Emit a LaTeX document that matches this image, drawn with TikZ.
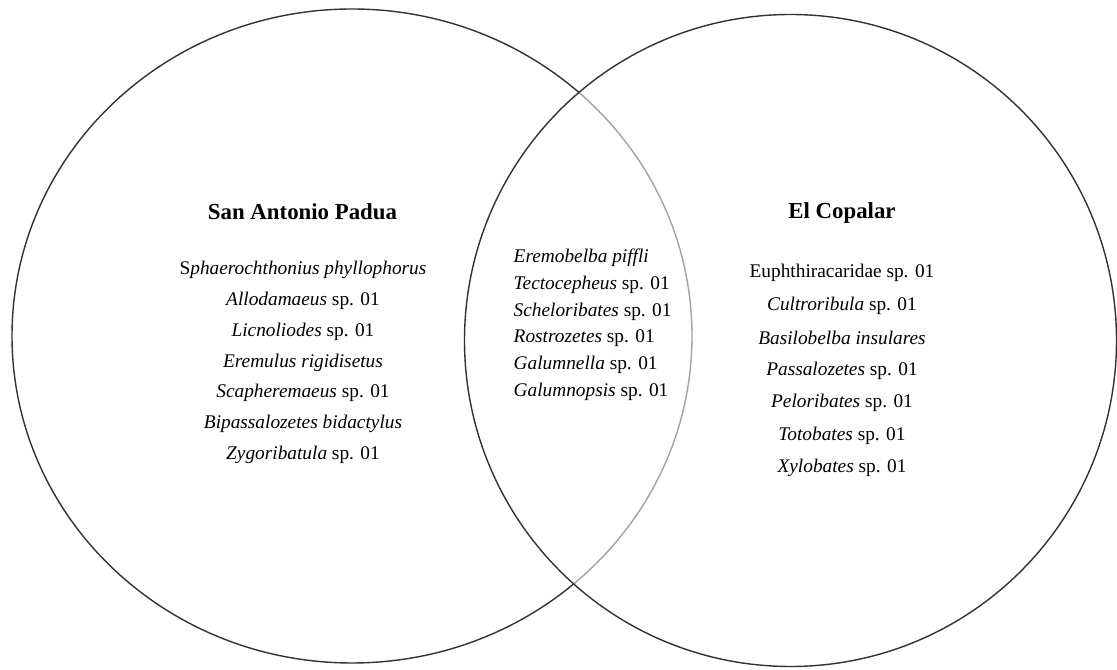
\documentclass[tikz,border=0pt]{standalone}
\usepackage{fontspec}
\setmainfont{Liberation Serif}

\begin{document}
\begin{tikzpicture}[line width=0.8pt]
    \tikzstyle{site}=[font=\fontsize{13}{15}\selectfont\bfseries,inner sep=0pt]
    \tikzstyle{species}=[font=\fontsize{11}{13}\selectfont,inner sep=0pt]
    \useasboundingbox (0,0) rectangle (22.34,13.4);

    % the two sampling sites, the right one greys out the arc below it
    \draw[black!80] (7.04,6.68) ellipse (6.8 and 6.54);
    \draw[black!80,fill=white,fill opacity=0.55] (15.81,6.59) circle (6.52);

    \node[site] (SAP) at (6.05,9.16) {San Antonio Padua};
    \node[site] (EC) at (16.84,9.14) {El Copalar};

    \foreach \i/\sp in {0/S\textit{phaerochthonius phyllophorus}, 1/\textit{Allodamaeus} sp. 01,
            2/\textit{Licnoliodes} sp. 01, 3/\textit{Eremulus rigidisetus}, 4/\textit{Scapheremaeus} sp. 01,
            5/\textit{Bipassalozetes bidactylus}, 6/\textit{Zygoribatula} sp. 01}
        \node[species] (SAP-\i) at (6.06,8.0-0.616*\i) {\sp};

    \foreach \i/\sp in {0/\textit{Eremobelba piffli}, 1/\textit{Tectocepheus} sp. 01,
            2/\textit{Scheloribates} sp. 01, 3/\textit{Rostrozetes} sp. 01,
            4/\textit{Galumnella} sp. 01, 5/\textit{Galumnopsis} sp. 01}
        \node[species,anchor=west] (both-\i) at (10.26,8.24-0.536*\i) {\sp};

    \foreach \i/\sp in {0/Euphthiracaridae sp. 01, 1/\textit{Cultroribula} sp. 01,
            2/\textit{Basilobelba insulares}, 3/\textit{Passalozetes} sp. 01,
            4/\textit{Peloribates} sp. 01, 5/\textit{Totobates} sp. 01, 6/\textit{Xylobates} sp. 01}
        \node[species] (EC-\i) at (16.84,7.94-0.65*\i) {\sp};
\end{tikzpicture}
\end{document}
